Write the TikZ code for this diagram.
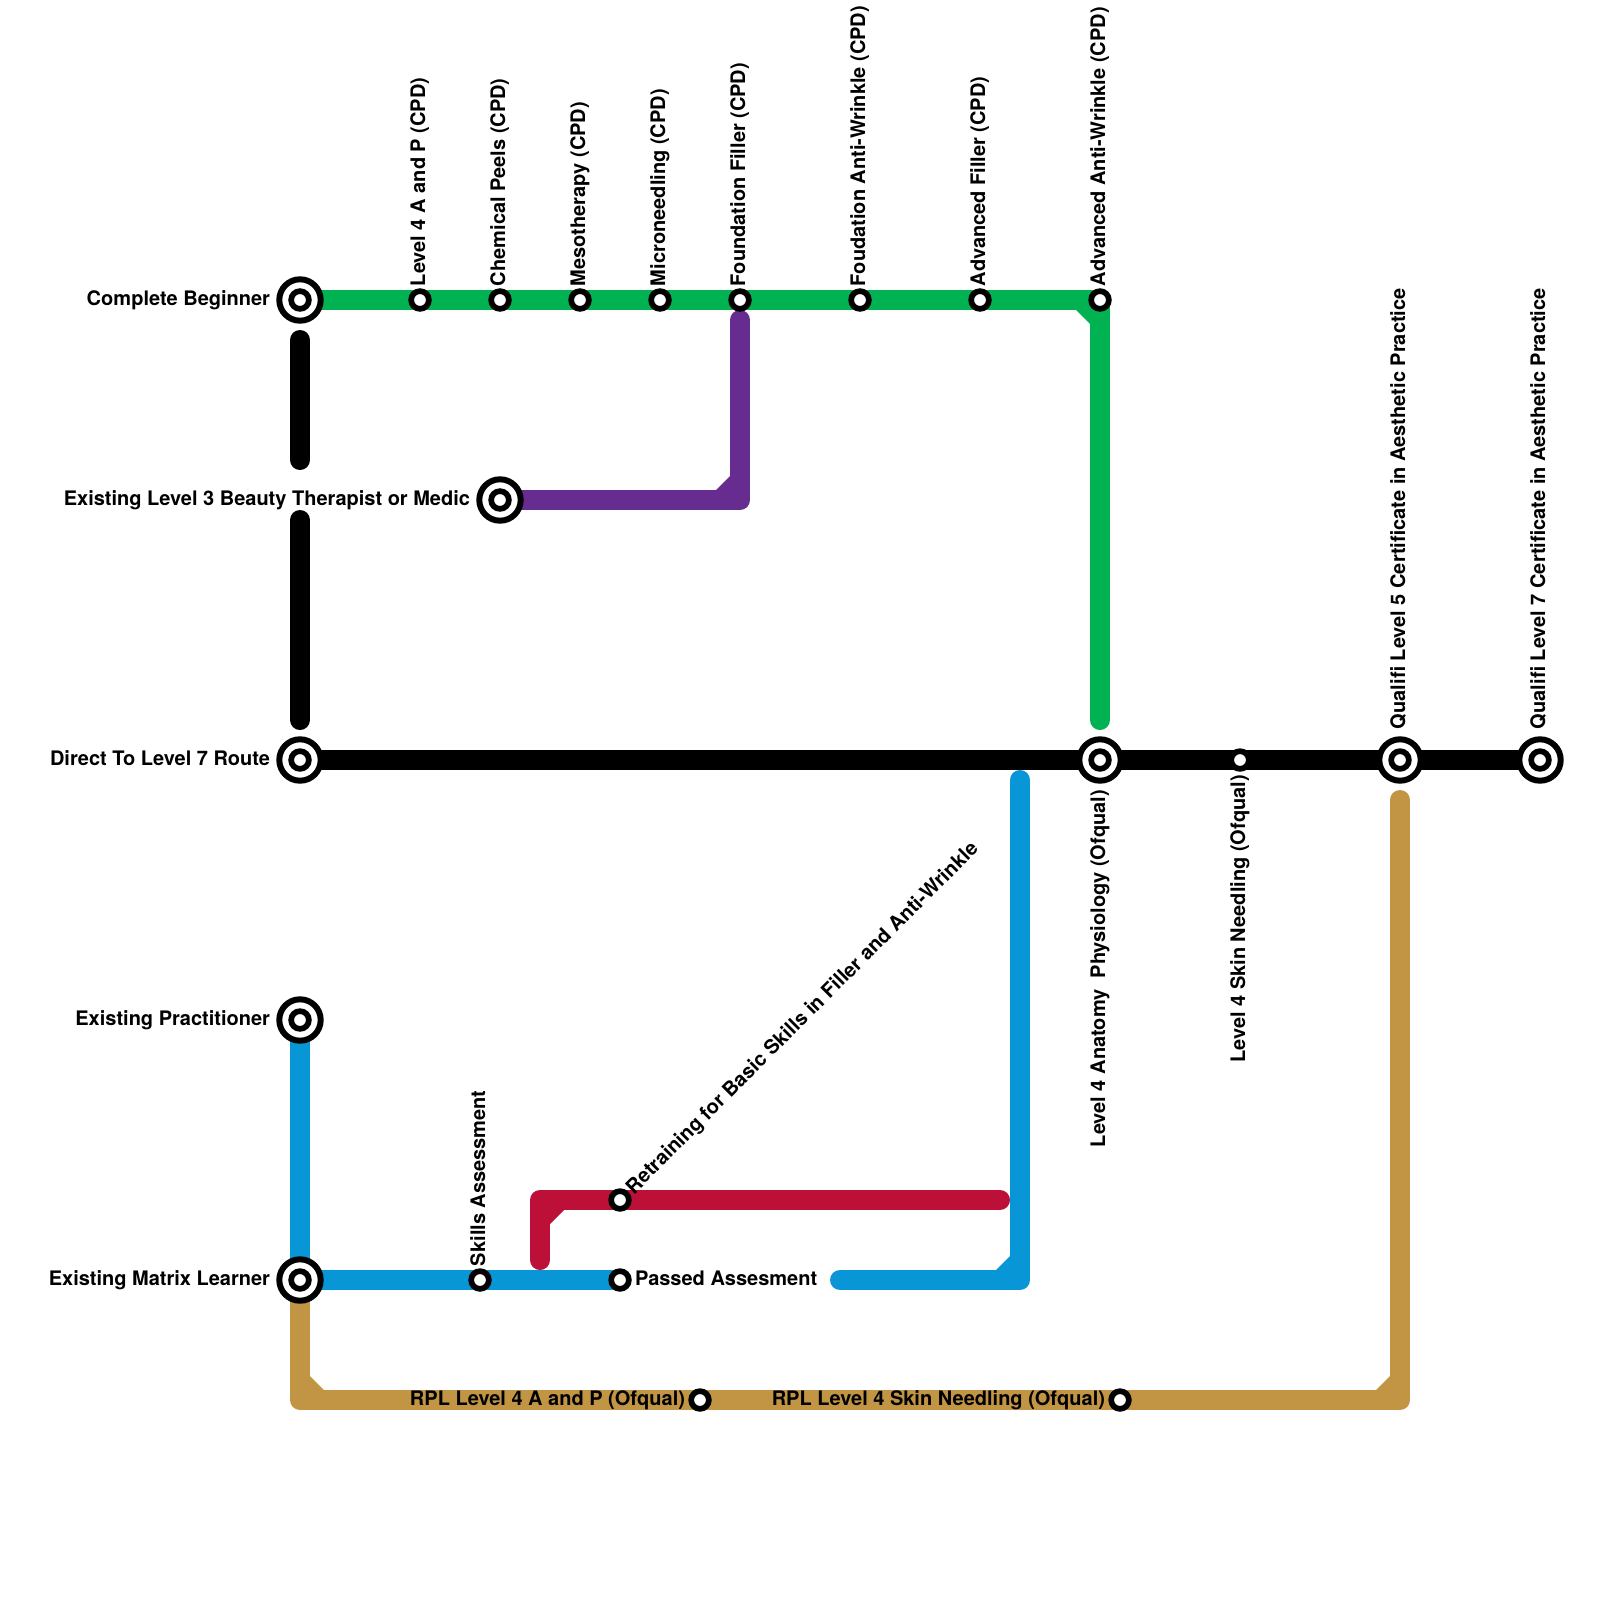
\documentclass[tikz,border=0pt]{standalone}
\usepackage{fontspec}
\setmainfont{TeX Gyre Heros}
\usetikzlibrary{calc}
\definecolor{lgreen}{HTML}{00B251}
\definecolor{lpurple}{HTML}{662C90}
\definecolor{lblue}{HTML}{0896D7}
\definecolor{lred}{HTML}{BD1038}
\definecolor{lgold}{HTML}{C29545}
\tikzset{
  x=1pt,y=-1pt,
  metro/.style={line width=20pt,line cap=round,line join=round},
  termjoin/.style={line width=20pt,line cap=butt,line join=round},
  stn/.style={circle,draw=black,fill=white,line width=5.7pt,minimum size=17.7pt,inner sep=0pt,outer sep=0pt},
  hub/.style={circle,draw=black,fill=white,line width=6pt,minimum size=41.4pt,inner sep=0pt,outer sep=0pt,
    path picture={\draw[black,line width=5.7pt] (path picture bounding box.center) circle[radius=8.85pt];}},
  lab/.style={font=\bfseries\fontsize{20}{22}\selectfont,inner sep=0pt,outer sep=0pt,text=black},
  upl/.style={lab,rotate=90,anchor=base west},
  downl/.style={lab,rotate=90,anchor=base east},
  leftl/.style={lab,anchor=base east},
  rightl/.style={lab,anchor=base west}
}
\begin{document}
\begin{tikzpicture}
\useasboundingbox (0,0) rectangle (1600,1600);
% hub and station positions
\coordinate (pBeg) at (300,300);
\coordinate (pL3) at (500,500);
\coordinate (pDir) at (300,760);
\coordinate (pPrac) at (300,1020);
\coordinate (pMat) at (300,1280);
\coordinate (pAna) at (1100,760);
\coordinate (pQ5) at (1400,760);
\coordinate (pQ7) at (1540,760);
\coordinate (pAdvAW) at (1100,300);
% free ends and bends
\coordinate (cGreen) at (1100,300);
\coordinate (eGreen) at (1100,720);
\coordinate (cPur) at (740,500);
\coordinate (ePur) at (740,320);
\coordinate (eBlkA) at (300,340);
\coordinate (eBlkB) at (300,460);
\coordinate (eBlkC) at (300,520);
\coordinate (eBlkD) at (300,720);
\coordinate (cMatB) at (1020,1280);
\coordinate (eBluR) at (1020,780);
\coordinate (eBluL) at (840,1280);
\coordinate (cRed) at (540,1200);
\coordinate (eRedA) at (540,1260);
\coordinate (eRedB) at (1000,1200);
\coordinate (cGoldL) at (300,1400);
\coordinate (cGoldR) at (1400,1400);
\coordinate (eGold) at (1400,800);
% lines
\draw[metro,black] (eBlkA) -- (eBlkB);
\draw[metro,black] (eBlkC) -- (eBlkD);
\draw[termjoin,black] (pDir) -- (pQ7);
\draw[metro,lgreen] (pBeg) -- (cGreen) -- (eGreen);
\draw[metro,lpurple] (pL3) -- (cPur) -- (ePur);
\draw[metro,lblue] (pPrac) -- (pMat) -- (620,1280);
\draw[metro,lblue] (eBluL) -- (cMatB) -- (eBluR);
\draw[metro,lred] (eRedA) -- (cRed) -- (eRedB);
\draw[metro,lgold] (pMat) -- (cGoldL) -- (cGoldR) -- (eGold);
% inner corner chamfers
\fill[lgreen] (1076,310) -- (1090,310) -- (1090,324) -- cycle;
\fill[lpurple] (716,490) -- (730,490) -- (730,476) -- cycle;
\fill[lblue] (996,1270) -- (1010,1270) -- (1010,1256) -- cycle;
\fill[lred] (550,1210) -- (564,1210) -- (550,1224) -- cycle;
\fill[lgold] (310,1390) -- (324,1390) -- (310,1376) -- cycle;
\fill[lgold] (1376,1390) -- (1390,1390) -- (1390,1376) -- cycle;
% hubs
\node[hub] (beg) at (pBeg) {};
\node[hub] (l3) at (pL3) {};
\node[hub] (dir) at (pDir) {};
\node[hub] (prac) at (pPrac) {};
\node[hub] (mat) at (pMat) {};
\node[hub] (ana) at (pAna) {};
\node[hub] (q5) at (pQ5) {};
\node[hub] (q7) at (pQ7) {};
% stations
\node[stn] (s1) at (420,300) {};
\node[stn] (s2) at (500,300) {};
\node[stn] (s3) at (580,300) {};
\node[stn] (s4) at (660,300) {};
\node[stn] (s5) at (740,300) {};
\node[stn] (s6) at (860,300) {};
\node[stn] (s7) at (980,300) {};
\node[stn] (s8) at (pAdvAW) {};
\node[stn] (s9) at (1240,760) {};
\node[stn] (s10) at (480,1280) {};
\node[stn] (s11) at (620,1280) {};
\node[stn] (s12) at (620,1200) {};
\node[stn] (s13) at (700,1400) {};
\node[stn] (s14) at (1120,1400) {};
% labels
\node[leftl] (t1) at (270,305) {Complete Beginner};
\node[leftl] (t2) at (470,505) {Existing Level 3 Beauty Therapist or Medic};
\node[leftl] (t3) at (270,765) {Direct To Level 7 Route};
\node[leftl] (t4) at (270,1025) {Existing Practitioner};
\node[leftl] (t5) at (270,1285) {Existing Matrix Learner};
\node[upl] (t6) at (425,286) {Level 4 A and P (CPD)};
\node[upl] (t7) at (505,286) {Chemical Peels (CPD)};
\node[upl] (t8) at (585,286) {Mesotherapy (CPD)};
\node[upl] (t9) at (665,286) {Microneedling (CPD)};
\node[upl] (t10) at (745,286) {Foundation Filler (CPD)};
\node[upl] (t11) at (865,286) {Foudation Anti-Wrinkle (CPD)};
\node[upl] (t12) at (985,286) {Advanced Filler (CPD)};
\node[upl] (t13) at (1105,286) {Advanced Anti-Wrinkle (CPD)};
\node[upl] (t14) at (1405,729) {Qualifi Level 5 Certificate in Aesthetic Practice};
\node[upl] (t15) at (1545,729) {Qualifi Level 7 Certificate in Aesthetic Practice};
\node[downl] (t16) at (1105,790) {Level 4 Anatomy\ \ Physiology (Ofqual)};
\node[downl] (t17) at (1245,775) {Level 4 Skin Needling (Ofqual)};
\node[upl] (t18) at (485,1266) {Skills Assessment};
\node[lab,rotate=45,anchor=base west] (t19) at (634,1195) {Retraining for Basic Skills in Filler and Anti-Wrinkle};
\node[rightl] (t20) at (635,1285) {Passed Assesment};
\node[leftl] (t21) at (685,1405) {RPL Level 4 A and P (Ofqual)};
\node[leftl] (t22) at (1105,1405) {RPL Level 4 Skin Needling (Ofqual)};
\end{tikzpicture}
\end{document}
